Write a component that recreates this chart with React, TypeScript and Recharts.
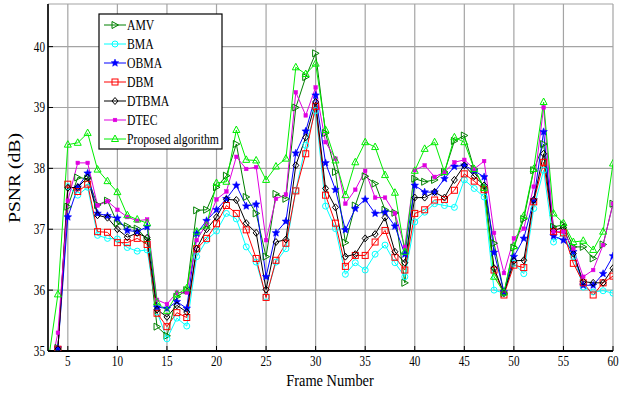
import { CartesianGrid, Line, LineChart, XAxis, YAxis } from "recharts";

const frames = [
  3, 4, 5, 6, 7, 8, 9, 10, 11, 12, 13, 14, 15, 16, 17, 18, 19, 20, 21, 22, 23, 24, 25, 26, 27, 28, 29, 30,
  31, 32, 33, 34, 35, 36, 37, 38, 39, 40, 41, 42, 43, 44, 45, 46, 47, 48, 49, 50, 51, 52, 53, 54, 55, 56,
  57, 58, 59, 60,
];

const amv = [
  34.5, 35.05, 37.37, 37.85, 37.83, 37.4, 37.47, 37.1, 37.05, 37.01,
  36.83, 35.4, 35.25, 35.89, 36.0, 37.31, 37.32, 37.69, 37.88, 38.4,
  37.53, 37.26, 36.55, 37.58, 37.5, 39.0, 39.5, 39.89, 38.58, 37.94,
  36.78, 37.39, 37.87, 37.75, 37.32, 37.27, 36.12, 37.83, 37.78, 37.81,
  37.94, 38.45, 38.54, 37.99, 37.68, 36.77, 35.95, 36.7, 37.17, 37.97,
  38.4, 37.04, 37.07, 36.71, 36.71, 36.52, 36.75, 37.42,
];
const bma = [
  34.5, 35.03, 37.7, 37.56, 37.69, 36.9, 36.85, 36.84, 36.7, 36.64,
  36.66, 35.64, 35.2, 35.54, 35.41, 36.55, 36.82, 36.97, 37.26, 37.17,
  36.71, 36.46, 35.89, 36.46, 36.68, 37.64, 38.38, 38.95, 37.38, 37.01,
  36.26, 36.45, 36.33, 36.59, 36.74, 36.45, 36.22, 37.12, 37.28, 37.42,
  37.39, 37.36, 37.81, 37.67, 37.53, 36.0, 35.95, 36.44, 36.27, 37.34,
  37.97, 36.79, 36.93, 36.55, 36.05, 35.97, 35.99, 35.95,
];
const obma = [
  34.5, 35.05, 37.2, 37.69, 37.92, 37.26, 37.22, 37.18, 36.98, 36.96,
  37.04, 35.72, 35.7, 35.81, 35.7, 36.93, 37.14, 37.32, 37.5, 37.72,
  37.38, 37.41, 36.22, 36.94, 37.13, 38.25, 38.61, 39.2, 38.09, 37.65,
  36.99, 37.34, 37.49, 37.26, 37.28, 37.05, 36.59, 37.72, 37.61, 37.61,
  37.83, 38.03, 38.05, 37.96, 37.86, 36.62, 35.97, 36.55, 36.85, 37.48,
  38.6, 36.89, 36.82, 36.63, 36.08, 36.08, 36.27, 36.56,
];
const dbm = [
  34.5, 35.03, 37.74, 37.62, 37.74, 36.96, 36.95, 36.78, 36.78, 36.85,
  36.75, 35.62, 35.4, 35.63, 35.55, 36.68, 36.85, 37.09, 37.39, 37.26,
  36.99, 36.52, 35.88, 36.49, 36.77, 37.63, 38.24, 39.02, 37.56, 37.1,
  36.39, 36.57, 36.57, 36.79, 36.98, 36.54, 36.33, 37.26, 37.32, 37.48,
  37.49, 37.64, 37.91, 37.79, 37.65, 36.33, 35.92, 36.41, 36.37, 37.45,
  38.1, 36.96, 36.94, 36.44, 36.12, 35.92, 36.12, 36.23,
];
const dtbma = [
  34.5, 35.03, 37.68, 37.69, 37.85, 37.23, 37.19, 37.0, 36.87, 36.94,
  36.86, 35.68, 35.56, 35.75, 35.64, 36.68, 37.0, 37.2, 37.49, 37.48,
  37.1, 36.94, 36.01, 36.79, 36.83, 38.05, 38.51, 39.09, 37.67, 37.36,
  36.55, 36.59, 36.85, 36.92, 37.19, 36.63, 36.45, 37.52, 37.52, 37.61,
  37.52, 37.81, 38.05, 37.87, 37.72, 36.36, 35.95, 36.48, 36.49, 37.48,
  38.24, 36.98, 37.03, 36.6, 36.14, 36.12, 36.12, 36.36,
];
const dtec = [
  34.5, 35.3, 37.47, 38.09, 38.09, 37.39, 37.46, 37.32, 37.2, 37.14,
  37.16, 35.84, 35.77, 35.96, 35.96, 36.82, 37.09, 37.49, 37.62, 38.19,
  37.99, 38.02, 36.82, 37.5, 37.57, 39.25, 38.87, 39.33, 38.43, 38.16,
  37.42, 37.65, 37.96, 37.52, 37.52, 37.26, 36.71, 37.97, 38.05, 37.86,
  37.94, 38.1, 38.14, 37.99, 38.12, 36.94, 36.28, 36.85, 37.01, 37.7,
  39.0, 36.96, 36.96, 36.68, 36.22, 36.33, 36.74, 37.42,
];
const proposed = [
  34.8, 35.93, 38.39, 38.42, 38.58, 37.98, 37.79, 37.61, 37.23, 37.16,
  37.1, 35.8, 35.66, 35.93, 36.03, 36.96, 37.06, 37.76, 37.78, 38.63,
  38.14, 38.13, 37.81, 38.03, 38.16, 39.66, 39.55, 39.72, 38.63, 38.13,
  37.56, 38.1, 38.43, 38.35, 37.89, 37.6, 36.63, 37.96, 38.32, 38.43,
  37.94, 38.51, 38.43, 37.99, 37.68, 36.22, 35.96, 36.72, 37.22, 37.99,
  39.09, 37.26, 37.1, 36.79, 36.81, 36.66, 36.96, 38.08,
];

const xTicks = [5, 10, 15, 20, 25, 30, 35, 40, 45, 50, 55, 60];
const yTicks = [35, 36, 37, 38, 39, 40];

const series = [
  { key: "AMV", values: amv, color: "#008000", marker: "triRight" },
  { key: "BMA", values: bma, color: "#00ffff", marker: "circle" },
  { key: "OBMA", values: obma, color: "#0000ff", marker: "star" },
  { key: "DBM", values: dbm, color: "#ff0000", marker: "square" },
  { key: "DTBMA", values: dtbma, color: "#000000", marker: "diamond" },
  { key: "DTEC", values: dtec, color: "#e000e0", marker: "dot" },
  { key: "Proposed algorithm", values: proposed, color: "#00ee00", marker: "triUp" },
];

const data = frames.map((f, i) => {
  const row: Record<string, number> = { frame: f };
  series.forEach((s) => (row[s.key] = s.values[i]));
  return row;
});

const FONT = "'Liberation Serif', 'Times New Roman', serif";

function starPath(cx: number, cy: number, ro: number, ri: number) {
  let d = "";
  for (let k = 0; k < 10; k++) {
    const r = k % 2 === 0 ? ro : ri;
    const a = -Math.PI / 2 + (k * Math.PI) / 5;
    d += `${k === 0 ? "M" : "L"}${cx + r * Math.cos(a)},${cy + r * Math.sin(a)}`;
  }
  return d + "Z";
}

function Marker({ kind, cx, cy, color }: { kind: string; cx: number; cy: number; color: string }) {
  switch (kind) {
    case "triRight":
      return <path d={`M${cx - 3},${cy - 3.5}L${cx + 3.5},${cy}L${cx - 3},${cy + 3.5}Z`} fill="none" stroke={color} strokeWidth={1} />;
    case "circle":
      return <circle cx={cx} cy={cy} r={3} fill="none" stroke={color} strokeWidth={1} />;
    case "star":
      return <path d={starPath(cx, cy, 4, 1.8)} fill={color} stroke={color} strokeWidth={0.5} />;
    case "square":
      return <rect x={cx - 3} y={cy - 3} width={6} height={6} fill="none" stroke={color} strokeWidth={1} />;
    case "diamond":
      return <path d={`M${cx},${cy - 3.5}L${cx + 3},${cy}L${cx},${cy + 3.5}L${cx - 3},${cy}Z`} fill="none" stroke={color} strokeWidth={1} />;
    case "dot":
      return <rect x={cx - 1.8} y={cy - 1.8} width={3.6} height={3.6} fill={color} stroke={color} strokeWidth={0.5} />;
    default:
      return <path d={`M${cx},${cy - 4}L${cx + 3.5},${cy + 2.5}L${cx - 3.5},${cy + 2.5}Z`} fill="none" stroke={color} strokeWidth={1} />;
  }
}

const makeDot = (kind: string, color: string) => (props: any) => {
  const { cx, cy, index } = props;
  if (cx == null || cy == null) return <g key={`d-${index}`} />;
  return (
    <g key={`d-${index}`}>
      <Marker kind={kind} cx={cx} cy={cy} color={color} />
    </g>
  );
};

const XTick = (props: any) => {
  const { x, y, payload } = props;
  return (
    <g transform={`translate(${x},${y}) scale(0.8,1)`}>
      <text x={0} y={11} textAnchor="middle" fontFamily={FONT} fontSize={14} fill="#000">
        {payload.value}
      </text>
    </g>
  );
};

const YTick = (props: any) => {
  const { x, y, payload } = props;
  return (
    <g transform={`translate(${x},${y}) scale(0.8,1)`}>
      <text x={0} y={5} textAnchor="end" fontFamily={FONT} fontSize={14} fill="#000">
        {payload.value}
      </text>
    </g>
  );
};

export default function App() {
  return (
    <div style={{ position: "absolute", left: 0, top: 0, width: 623, height: 394, background: "#fff" }}>
      <LineChart
        width={623}
        height={394}
        data={data}
        margin={{ top: 4, right: 10, bottom: 0, left: 0 }}
        style={{ overflow: "visible" }}
      >
        <CartesianGrid stroke="#a4a4a4" strokeWidth={1.2} />
        <XAxis
          dataKey="frame"
          type="number"
          domain={[3, 60]}
          ticks={xTicks}
          allowDataOverflow
          height={43}
          axisLine={{ stroke: "#000", strokeWidth: 1.8 }}
          tickLine={{ stroke: "#000" }}
          tickSize={-5}
          tickMargin={9}
          tick={<XTick />}
          interval={0}
        />
        <XAxis
          xAxisId="top"
          orientation="top"
          type="number"
          domain={[3, 60]}
          ticks={xTicks}
          allowDataOverflow
          height={0}
          axisLine={{ stroke: "#000", strokeWidth: 1.6 }}
          tickLine={{ stroke: "#000" }}
          tickSize={-5}
          tick={false}
          interval={0}
        />
        <YAxis
          type="number"
          domain={[35, 40.7]}
          ticks={yTicks}
          allowDataOverflow
          width={48}
          axisLine={{ stroke: "#000", strokeWidth: 1.6 }}
          tickLine={{ stroke: "#000" }}
          tickSize={-5}
          tickMargin={8}
          tick={<YTick />}
          interval={0}
        />
        <YAxis
          yAxisId="right"
          orientation="right"
          type="number"
          domain={[35, 40.7]}
          ticks={yTicks}
          allowDataOverflow
          width={0}
          axisLine={{ stroke: "#000", strokeWidth: 1.6 }}
          tickLine={{ stroke: "#000" }}
          tickSize={-5}
          tick={false}
          interval={0}
        />
        {series.map((s) => (
          <Line
            key={s.key}
            dataKey={s.key}
            stroke={s.color}
            strokeWidth={1}
            dot={makeDot(s.marker, s.color)}
            activeDot={false}
            isAnimationActive={false}
          />
        ))}
      </LineChart>
      <svg
        width={623}
        height={394}
        style={{ position: "absolute", left: 0, top: 0, pointerEvents: "none" }}
      >
        <text
          x={0}
          y={0}
          transform="translate(20,178) rotate(-90)"
          textAnchor="middle"
          fontFamily={FONT}
          fontSize={16}
          textLength={90}
          lengthAdjust="spacingAndGlyphs"
          fill="#000"
        >
          PSNR (dB)
        </text>
        <g transform="translate(330,386) scale(0.9,1)">
          <text x={0} y={0} textAnchor="middle" fontFamily={FONT} fontSize={16} fill="#000">
            Frame Number
          </text>
        </g>
        <g transform="translate(99,14)">
          <rect x={0} y={0} width={123} height={135} fill="#fff" stroke="#000" strokeWidth={1.2} />
          {series.map((s, i) => {
            const y = 11 + i * 19;
            return (
              <g key={s.key}>
                <line x1={5} x2={27} y1={y} y2={y} stroke={s.color} strokeWidth={1} />
                <Marker kind={s.marker} cx={16} cy={y} color={s.color} />
                <g transform={`translate(28,${y + 5}) scale(0.78,1)`}>
                  <text x={0} y={0} fontFamily={FONT} fontSize={15} fill="#000">
                    {s.key}
                  </text>
                </g>
              </g>
            );
          })}
        </g>
      </svg>
    </div>
  );
}
